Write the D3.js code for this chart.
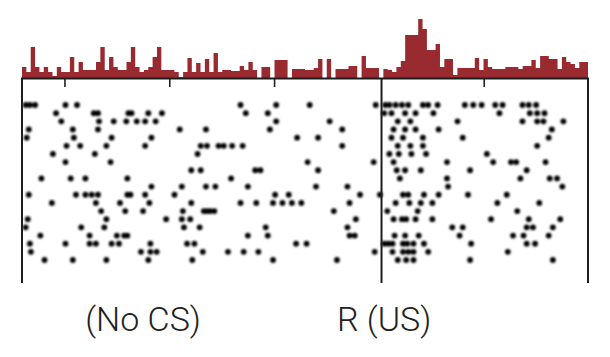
<!DOCTYPE html>
<html><head><meta charset="utf-8">
<script src="https://cdn.jsdelivr.net/npm/d3@7"></script>
<style>html,body{margin:0;padding:0;background:#fff;} svg{display:block;}</style>
</head><body><svg id="chart" width="610" height="357"></svg>
<script>
// ---- data ----
const timeDomain = [-3.405, 1.995];          // seconds relative to US
const binCounts = [
 11,6,31,11,6,11,6,2,11,6, 6,21,6,16,8,8,8,16,31,8,
 21,11,8,8,16,31,11,6,8,11, 21,31,8,8,8,6,1,6,20,6,
 15,6,19,6,25,6,8,8,7,7, 12,8,16,8,0,11,11,0,18,18,
 18,0,9,9,9,8,8,10,19,0, 19,0,9,9,9,12,12,0,22,10,
 10,10,0,9,8,6,11,17,43,43, 43,59,49,28,28,34,11,19,19,3,
 10,10,10,10,20,8,19,11,9,9, 9,11,11,11,9,12,12,18,10,22,
 22,19,19,9,21,16,14,10,16,16
];
const tickValues = [-3, -2, -1, 1];
const usOnset = 0.025;
const trialSpikes = [
 [-3.37,-3.33,-3.28,-2.99,-2.88,-1.32,-0.98,-0.66,-0.03,0.06,0.10,0.16,0.22,0.28,0.42,0.47,0.56,0.82,0.90,0.98,1.11,1.18,1.37,1.43,1.50],
 [-3.08,-2.72,-2.68,-2.39,-2.36,-2.20,-2.07,-1.27,-1.06,0.05,0.12,0.25,0.35,0.52,1.15,1.44,1.51,1.58],
 [-3.03,-2.67,-2.53,-2.41,-2.31,-2.23,-2.13,-0.98,-0.47,0.18,0.30,0.75,1.37,1.51,1.57,1.76],
 [-3.34,-2.92,-2.68,-1.90,-1.65,-1.04,-0.35,0.14,0.25,0.35,0.57,1.65],
 [-3.36,-2.91,-2.55,-2.17,-0.78,-0.58,0.12,0.23,0.42,0.80,1.62],
 [-2.98,-2.85,-2.60,-2.23,-1.70,-1.64,-1.53,-1.48,-1.40,-1.30,-0.35,0.18,0.30,0.42,1.51],
 [-3.11,-2.71,-1.73,0.10,0.19,0.31,0.45,1.03],
 [-2.99,-2.56,-0.68,-0.05,0.14,0.65,1.09,1.26,1.31,1.59],
 [-1.79,-1.70,-1.18,-1.13,-0.58,0.17,0.25,0.40,0.87,1.41],
 [-3.22,-2.94,-2.80,-2.40,-1.41,0.20,0.65,1.35,1.63,1.70],
 [-2.17,-1.88,-1.65,-1.56,-1.25,-0.60,-0.30,0.66,1.75],
 [-3.34,-2.89,-2.80,-2.74,-2.68,-2.40,-2.37,-2.23,-1.95,-0.99,-0.86,-0.18,0.01,0.23,0.28,0.43,0.57,0.85,1.22],
 [-3.12,-2.70,-2.47,-2.19,-1.79,-1.32,-1.17,-1.01,-0.92,-0.83,-0.74,-0.28,0.16,0.29,0.40,0.51,1.13,1.53],
 [-2.65,-2.42,-2.25,-1.87,-1.67,-1.64,-1.61,-1.57,-0.43,0.08,0.37,1.32],
 [-3.35,-2.60,-2.03,-1.88,-1.80,-0.22,0.14,0.22,0.26,0.35,0.51,1.07,1.43,1.73],
 [-3.37,-2.84,-2.62,-1.86,-1.71,-1.08,-0.30,0.70,0.80,1.41,1.47,1.66],
 [-3.23,-2.76,-2.50,-2.43,-2.40,-1.25,-1.06,-0.28,-0.23,0.15,0.25,0.38,0.77,1.28,1.38,1.62],
 [-3.33,-2.99,-2.76,-2.70,-2.55,-2.48,-2.18,-1.83,-1.76,-0.79,-0.69,0.05,0.09,0.13,0.23,0.27,0.33,0.43,0.88,1.41,1.49],
 [-3.32,-2.27,-2.18,-2.12,-1.68,-1.44,-1.29,-1.15,-0.04,0.13,0.23,0.28,0.33,0.47,1.23],
 [-3.19,-2.92,-2.60,-2.20,-1.78,-1.01,-0.40,0.18,0.26,0.33,0.87,1.66]
];
const periodLabels = ["(No CS)", "R (US)"];
const labelTimes = [-2.25, 0.05];

// ---- layout ----
const svg = d3.select("#chart");
const left = 22, right = 588, histBase = 78, histTopVal = 59, histTopY = 19;
const rasterTop = 78, rasterBottom = 283;

const x = d3.scaleLinear().domain(timeDomain).range([left, right]);
const binW = (timeDomain[1] - timeDomain[0]) / binCounts.length;
const yH = d3.scaleLinear().domain([0, histTopVal]).range([histBase, histTopY]);
const yR = d3.scaleLinear().domain([0, trialSpikes.length - 1]).range([105, 260]);

const defs = svg.append("defs");
defs.append("filter").attr("id", "soft").attr("x", "-50%").attr("y", "-50%").attr("width", "200%").attr("height", "200%")
  .append("feGaussianBlur").attr("stdDeviation", 1.0);

// histogram as a single step area
const histPts = binCounts.map((c, i) => ({ t: timeDomain[0] + i * binW, c }));
histPts.push({ t: timeDomain[1], c: binCounts[binCounts.length - 1] });
const area = d3.area().curve(d3.curveStepAfter)
  .x(d => x(d.t)).y0(histBase).y1(d => yH(d.c));
svg.append("path").datum(histPts).attr("d", area).attr("fill", "#982a30");

// raster
const dots = [];
trialSpikes.forEach((row, r) => row.forEach(t => dots.push({ r, t })));
svg.append("g").attr("filter", "url(#soft)").selectAll("circle").data(dots).join("circle")
  .attr("cx", d => x(d.t))
  .attr("cy", d => yR(d.r))
  .attr("r", 2.9)
  .attr("fill", "#000");

// axis baseline + ticks
const axis = d3.axisBottom(x).tickValues(tickValues).tickSize(9).tickFormat("");
const ag = svg.append("g").attr("transform", `translate(0,${histBase})`).call(axis);
ag.select(".domain").remove();
ag.selectAll(".tick line").attr("stroke", "#222").attr("stroke-width", 1.6);
svg.append("line").attr("x1", left - 1).attr("x2", right + 1).attr("y1", histBase + 0.5).attr("y2", histBase + 0.5)
  .attr("stroke", "#1d1d1d").attr("stroke-width", 2);

// vertical lines
[timeDomain[0], usOnset, timeDomain[1]].forEach(t => {
  svg.append("line").attr("x1", x(t)).attr("x2", x(t)).attr("y1", rasterTop).attr("y2", rasterBottom)
    .attr("stroke", "#1d1d1d").attr("stroke-width", 2);
});

// labels
svg.append("g").selectAll("text").data(periodLabels).join("text")
  .attr("x", (d, i) => x(labelTimes[i]))
  .attr("y", 331)
  .attr("text-anchor", "middle")
  .attr("font-family", "Roboto, 'Helvetica Neue', Arial, sans-serif")
  .attr("font-weight", 300)
  .attr("font-size", 34)
  .attr("fill", "#222")
  .text(d => d);
</script>
</body></html>
